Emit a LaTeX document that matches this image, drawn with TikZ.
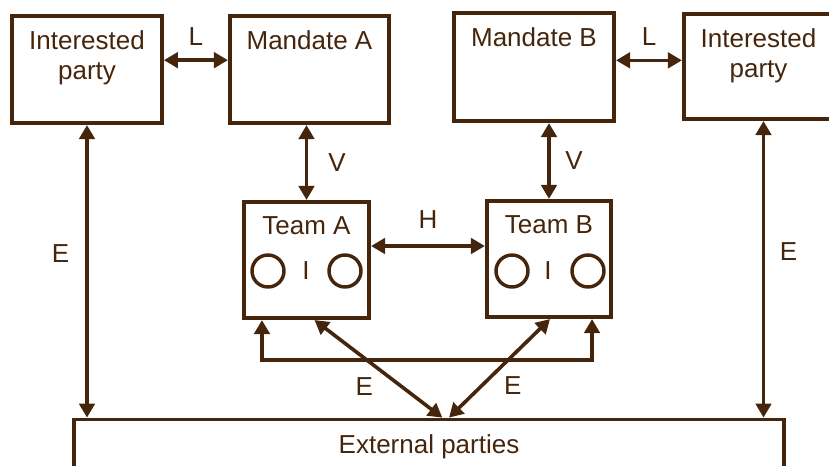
\documentclass[tikz,border=0pt]{standalone}
\usepackage{fontspec}
\setmainfont{Liberation Sans}
\usetikzlibrary{arrows.meta,positioning}
\definecolor{inkBrown}{HTML}{45260C}

\begin{document}
\begin{tikzpicture}[
  x=0.75pt,y=-0.75pt,
  font=\fontsize{19.5}{22.5}\selectfont,
  box/.style={draw=inkBrown,line width=2.8pt,rectangle,inner sep=0pt},
  txt/.style={text=inkBrown,align=center,inner sep=0pt},
  ring/.style={draw=inkBrown,line width=2.6pt,circle,minimum size=24pt,inner sep=0pt},
  lbl/.style={text=inkBrown,inner sep=0pt},
  arrow/.style={{Triangle[length=10.5pt,width=11.5pt]}-{Triangle[length=10.5pt,width=11.5pt]},line width=2.7pt,draw=inkBrown}
]
\useasboundingbox (0,0) rectangle (829,465);
% boxes
\node[box,minimum width=112.5pt,minimum height=80.5pt] (partyA) at (87,69.5) {};
\node[box,minimum width=119.5pt,minimum height=80.5pt] (mandateA) at (309.5,69.5) {};
\node[box,minimum width=120.25pt,minimum height=81.25pt] (mandateB) at (534,67) {};
\node[box,minimum width=112pt,minimum height=79pt] (partyB) at (758.5,66.5) {};
\node[box,minimum width=94pt,minimum height=87.25pt] (teamA) at (306.5,260) {};
\node[box,minimum width=93.25pt,minimum height=87.25pt] (teamB) at (549,259) {};
\node[box,minimum width=532.75pt,minimum height=75pt] (external) at (429,469.5) {};
% texts
\node[txt,below=12.5pt of partyA.north] (partyAtext) {Interested\\party};
\node[txt,below=12.5pt of mandateA.north] (mandateAtext) {Mandate A};
\node[txt,below=12.5pt of mandateB.north] (mandateBtext) {Mandate B};
\node[txt,below=12.5pt of partyB.north] (partyBtext) {Interested\\party};
\node[txt,below=12.5pt of teamA.north] (teamAtext) {Team A};
\node[txt,below=12.5pt of teamB.north] (teamBtext) {Team B};
\node[txt,below=12.5pt of external.north] (externaltext) {External parties};
% members
\node[ring] (memberA1) at (268,271) {};
\node[ring] (memberA2) at (345,271) {};
\node[lbl] (innerA) at (306,271) {I};
\node[ring] (memberB1) at (512,271) {};
\node[ring] (memberB2) at (588,271) {};
\node[lbl] (innerB) at (548,271) {I};
% links
\draw[arrow] ([yshift=7pt]partyA.east) -- node[lbl,above=10pt]{L} ([yshift=7pt]partyA.east -| mandateA.west);
\draw[arrow] ([yshift=5pt]mandateB.east) -- node[lbl,above=10pt]{L} ([yshift=5pt]mandateB.east -| partyB.west);
\draw[arrow] (teamA.north) -- node[lbl,right=15pt]{V} (teamA.north |- mandateA.south);
\draw[arrow] (teamB.north) -- node[lbl,right=11pt]{V} (teamB.north |- mandateB.south);
\draw[arrow] ([yshift=10.5pt]teamA.east) -- node[lbl,above=12pt]{H} ([yshift=10.5pt]teamA.east -| teamB.west);
\draw[arrow] (partyA.south) -- node[lbl,left=12pt,pos=0.44]{E} (partyA.south |- external.north);
\draw[arrow] ([xshift=3.75pt]partyB.south) -- node[lbl,right=11pt,pos=0.44]{E} ([xshift=3.75pt]partyB.south |- external.north);
\draw[arrow] ([xshift=15pt]teamA.south west) -- ++(0,40) -| ([xshift=-15.75pt]teamB.south east);
\draw[arrow] ([xshift=6pt]teamA.south) -- node[lbl,left=20pt,pos=0.68]{E} ([xshift=10pt]external.north);
\draw[arrow] ([xshift=0.75pt]teamB.south) -- node[lbl,right=15pt,pos=0.67]{E} ([xshift=15pt]external.north);
\end{tikzpicture}
\end{document}
